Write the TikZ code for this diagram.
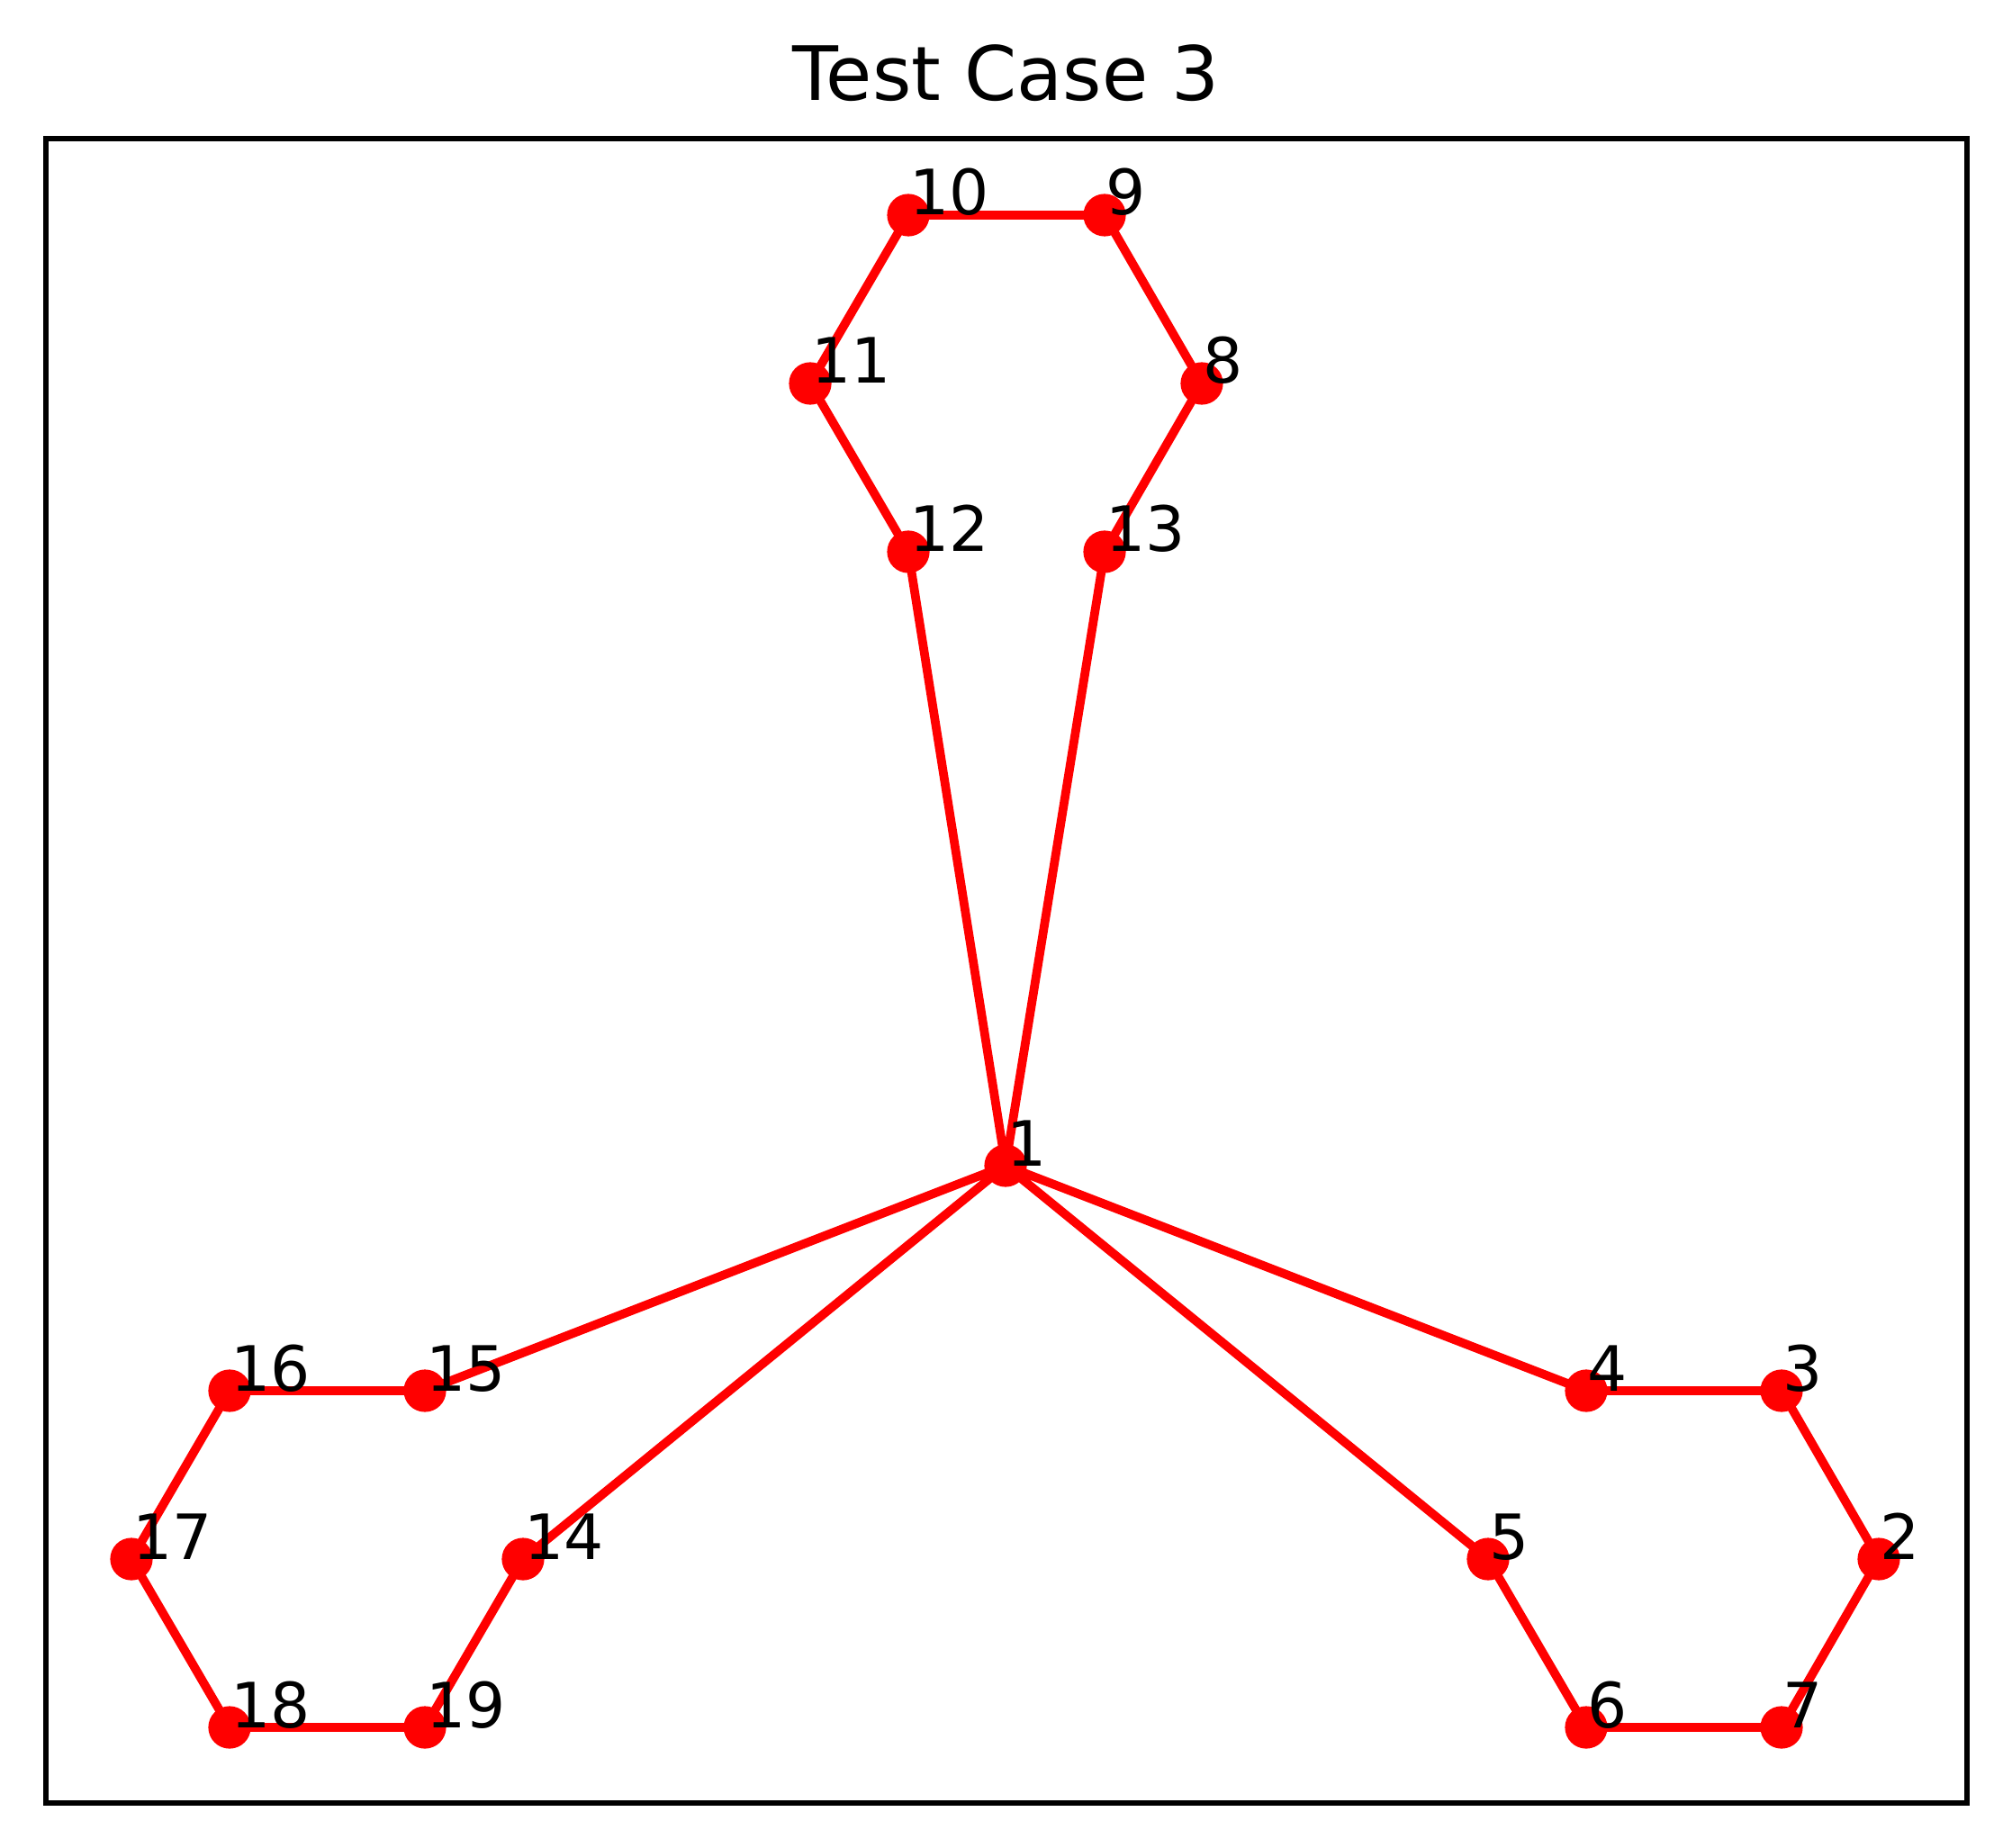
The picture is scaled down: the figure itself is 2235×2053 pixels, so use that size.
\documentclass[tikz,border=0pt]{standalone}
\usepackage{fontspec}
\setmainfont{DejaVu Sans}
\usepackage{xcolor}
\usepackage{tikz}
\usetikzlibrary{positioning}

\begin{document}
\begin{tikzpicture}[x=0.144pt,y=-0.144pt,
  edge/.style={draw=red,line width=1.4pt},
  dot/.style={circle,fill=red,minimum size=6.8pt,inner sep=0pt},
  num/.style={anchor=base west,inner sep=0pt,font=\fontsize{10}{12}\selectfont},
  ttl/.style={anchor=base,inner sep=0pt,font=\fontsize{12}{14}\selectfont}]
 \useasboundingbox (0,0) rectangle (2235,2053);
 % vertex positions
 \foreach \i/\x/\y in {1/1117/1295,2/2087/1732,3/1979/1545,4/1762/1545,
   5/1653/1732,6/1762/1919,7/1979/1919,8/1335/426,9/1227/239,10/1009/239,
   11/900/426,12/1009/613,13/1227/613,14/581/1732,15/472/1545,16/255/1545,
   17/146/1732,18/255/1919,19/472/1919}
   \coordinate (v\i) at (\x,\y);
 % edges
 \draw[edge] (v1)--(v12)--(v11)--(v10)--(v9)--(v8)--(v13)--(v1);
 \draw[edge] (v1)--(v4)--(v3)--(v2)--(v7)--(v6)--(v5)--(v1);
 \draw[edge] (v1)--(v15)--(v16)--(v17)--(v18)--(v19)--(v14)--(v1);
 % markers and numbers
 \foreach \i in {1,...,19} \node[dot] (d\i) at (v\i) {};
 \foreach \i in {1,...,19} \node[num] (t\i) at (v\i) {\i};
 % frame and title
 \node[draw,line width=0.8pt,minimum width=2134*0.144pt,minimum height=1849*0.144pt,
   inner sep=0pt] (box) at (1118,1078.5) {};
 \node[ttl] (title) at (1118,112) {Test Case 3};
\end{tikzpicture}
\end{document}
